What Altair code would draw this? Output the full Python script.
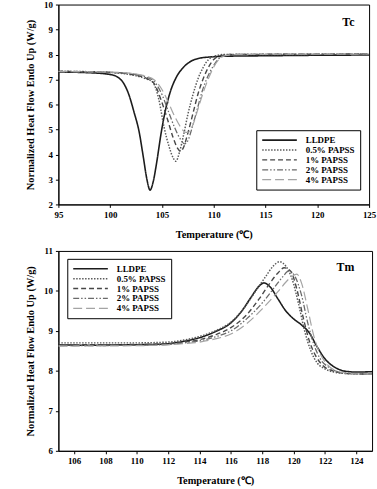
import altair as alt
import pandas as pd

series = ["LLDPE", "0.5% PAPSS", "1% PAPSS", "2% PAPSS", "4% PAPSS"]

# ---- Tc (cooling) curves ----
tc_lldpe_x = [95, 98, 100, 100.7, 101.3, 101.8, 102.3, 102.8, 103.2, 103.55, 103.85, 104.15, 104.5, 104.9, 105.3, 105.8, 106.4, 107.1, 107.8, 108.6, 109.6, 111, 115, 120, 125]
tc_lldpe_y = [7.3, 7.27, 7.2, 7.1, 6.85, 6.4, 5.7, 4.9, 3.9, 3.0, 2.57, 2.9, 3.7, 4.8, 5.7, 6.5, 7.1, 7.5, 7.73, 7.85, 7.9, 7.93, 7.95, 7.97, 7.98]

tc_p05_x = [95, 99, 101, 102.5, 103.5, 104.1, 104.7, 105.2, 105.7, 106.1, 106.35, 106.7, 107.1, 107.5, 108, 108.5, 109, 109.5, 110.2, 111, 115, 125]
tc_p05_y = [7.33, 7.3, 7.25, 7.15, 7.02, 6.9, 6.2, 5.1, 4.3, 3.85, 3.73, 4.1, 4.8, 5.6, 6.4, 7.05, 7.5, 7.8, 7.95, 8.0, 8.0, 8.02]

tc_p1_x = [95, 101, 102.5, 103.5, 104.3, 104.9, 105.5, 106.1, 106.5, 106.8, 107.1, 107.5, 108, 108.5, 109, 109.5, 110, 110.6, 111.5, 125]
tc_p1_y = [7.33, 7.26, 7.17, 7.05, 6.8, 6.2, 5.45, 4.65, 4.25, 4.12, 4.3, 4.85, 5.65, 6.45, 7.05, 7.5, 7.8, 7.95, 8.0, 8.02]

tc_p2_x = [95, 101, 102.5, 103.5, 104.3, 105, 105.6, 106.2, 106.8, 107.2, 107.5, 107.9, 108.4, 108.9, 109.4, 109.9, 110.4, 111, 112, 125]
tc_p2_y = [7.32, 7.27, 7.2, 7.1, 6.9, 6.4, 5.75, 5.1, 4.6, 4.42, 4.55, 5.05, 5.8, 6.55, 7.1, 7.5, 7.8, 7.95, 8.0, 8.02]

tc_p4_x = [95, 101, 102.5, 103.5, 104.3, 105, 105.6, 106.2, 106.8, 107.3, 107.6, 108, 108.5, 109, 109.5, 110, 110.5, 111.1, 112, 125]
tc_p4_y = [7.32, 7.28, 7.22, 7.13, 6.97, 6.6, 6.1, 5.55, 5.1, 4.88, 4.9, 5.2, 5.85, 6.5, 7.05, 7.5, 7.8, 7.95, 8.0, 8.02]

# ---- Tm (heating) curves ----
tm_lldpe_x = [105, 107, 109, 111, 112, 113, 114, 115, 116, 116.7, 117.3, 117.8, 118.1, 118.5, 119, 119.5, 120, 120.5, 121, 121.5, 122, 122.5, 123, 123.5, 124, 125]
tm_lldpe_y = [8.65, 8.64, 8.65, 8.66, 8.68, 8.74, 8.83, 8.98, 9.2, 9.5, 9.85, 10.12, 10.2, 10.1, 9.8, 9.5, 9.3, 9.15, 8.95, 8.6, 8.3, 8.12, 8.02, 7.98, 7.97, 7.98]

tm_p05_x = [105, 108, 110, 112, 113, 114, 115, 116, 116.8, 117.5, 118.2, 118.7, 119.1, 119.5, 119.9, 120.3, 120.7, 121.1, 121.5, 122, 122.7, 123.5, 125]
tm_p05_y = [8.7, 8.7, 8.7, 8.72, 8.77, 8.86, 9.0, 9.22, 9.55, 9.95, 10.35, 10.62, 10.73, 10.62, 10.3, 9.7, 9.0, 8.5, 8.2, 8.05, 7.96, 7.93, 7.92]

tm_p1_x = [105, 110, 112, 113, 114, 115, 116, 117, 117.8, 118.5, 119, 119.4, 119.8, 120.2, 120.6, 121, 121.4, 121.9, 122.5, 123.5, 125]
tm_p1_y = [8.65, 8.66, 8.68, 8.72, 8.78, 8.9, 9.08, 9.4, 9.8, 10.2, 10.45, 10.58, 10.5, 10.05, 9.35, 8.75, 8.38, 8.12, 8.0, 7.93, 7.92]

tm_p2_x = [105, 110, 112, 113, 114, 115, 116, 117, 118, 118.8, 119.3, 119.7, 120.1, 120.5, 120.9, 121.3, 121.7, 122.2, 122.8, 123.8, 125]
tm_p2_y = [8.63, 8.64, 8.66, 8.7, 8.75, 8.85, 9.0, 9.3, 9.7, 10.1, 10.35, 10.5, 10.35, 9.9, 9.2, 8.65, 8.3, 8.1, 7.98, 7.93, 7.92]

tm_p4_x = [105, 110, 112, 113, 114, 115, 116, 117, 118, 119, 119.7, 120.2, 120.5, 120.9, 121.3, 121.7, 122.1, 122.7, 123.7, 125]
tm_p4_y = [8.62, 8.63, 8.65, 8.68, 8.72, 8.8, 8.92, 9.18, 9.55, 9.98, 10.3, 10.42, 10.2, 9.55, 8.85, 8.42, 8.18, 8.0, 7.93, 7.92]

tc_ticks_x = [95, 100, 105, 110, 115, 120, 125]
tc_ticks_y = [2, 3, 4, 5, 6, 7, 8, 9, 10]
tm_ticks_x = [106, 108, 110, 112, 114, 116, 118, 120, 122, 124]
tm_ticks_y = [6, 7, 8, 9, 10, 11]

tc_label = {"text": ["Tc"], "x": [123.0], "y": [9.28]}
tm_label = {"text": ["Tm"], "x": [123.3], "y": [10.59]}

def build(xs_list, ys_list):
    rows = []
    for name, xs, ys in zip(series, xs_list, ys_list):
        for i, (a, b) in enumerate(zip(xs, ys)):
            rows.append({"series": name, "T": a, "H": b, "order": i})
    return pd.DataFrame(rows)

tc_df = build([tc_lldpe_x, tc_p05_x, tc_p1_x, tc_p2_x, tc_p4_x],
              [tc_lldpe_y, tc_p05_y, tc_p1_y, tc_p2_y, tc_p4_y])
tm_df = build([tm_lldpe_x, tm_p05_x, tm_p1_x, tm_p2_x, tm_p4_x],
              [tm_lldpe_y, tm_p05_y, tm_p1_y, tm_p2_y, tm_p4_y])

FONT = "Liberation Serif"
color_scale = alt.Scale(domain=series, range=["#1c1c1c", "#5a5a5a", "#474747", "#6a6a6a", "#a4a4a4"])
dash_scale = alt.Scale(domain=series, range=[[1, 0], [1.5, 1.5], [5, 3], [6, 2, 1.5, 2, 1.5, 2], [9, 4]])
width_scale = alt.Scale(domain=series, range=[1.6, 1.2, 1.3, 1.3, 1.3])


def legend(lx, ly):
    return alt.Legend(title=None, orient="none", legendX=lx, legendY=ly,
                      symbolType="M-1,0H7.75", symbolSize=64,
                      labelFont=FONT, labelFontWeight="bold", labelFontSize=9,
                      labelColor="black", labelOffset=35,
                      strokeColor="black", fillColor="white", padding=5,
                      rowPadding=0, labelLimit=200)


def axis(vals, title):
    return alt.Axis(values=vals, title=title, labelOverlap=False, labelFlush=False,
                    labelBound=False, tickCount=len(vals))


def panel(df, xdom, ydom, xticks, yticks, w, lab, lx, ly):
    lg = legend(lx, ly)
    lines = alt.Chart(df).mark_line(interpolate="monotone", clip=True).encode(
        x=alt.X("T:Q", scale=alt.Scale(domain=xdom, nice=False, zero=False),
                axis=axis(xticks, "Temperature (℃)")),
        y=alt.Y("H:Q", scale=alt.Scale(domain=ydom, nice=False, zero=False),
                axis=axis(yticks, "Normalized Heat Flow Endo Up (W/g)")),
        color=alt.Color("series:N", scale=color_scale, legend=lg),
        strokeDash=alt.StrokeDash("series:N", scale=dash_scale, legend=lg),
        strokeWidth=alt.StrokeWidth("series:N", scale=width_scale, legend=lg),
        detail="series:N",
        order="order:Q",
    )
    text = alt.Chart(pd.DataFrame(lab)).mark_text(
        font=FONT, fontWeight="bold", fontSize=12, color="black", align="center", baseline="middle"
    ).encode(x="x:Q", y="y:Q", text="text:N")
    return alt.layer(lines, text).properties(width=w, height=202)


top = panel(tc_df, [95, 125], [2, 10], tc_ticks_x, tc_ticks_y, 314, tc_label, 200, 127)
bottom = panel(tm_df, [105, 125], [6, 11], tm_ticks_x, tm_ticks_y, 317, tm_label, 9, 8)

chart = alt.vconcat(top, bottom, spacing=47, bounds="flush").resolve_scale(
    color="independent", strokeDash="independent", strokeWidth="independent", x="independent", y="independent"
).resolve_legend(color="independent", strokeDash="independent", strokeWidth="independent").properties(
    padding={"left": 25, "top": -3, "right": 0, "bottom": 0}, background="white"
).configure_view(stroke="black", strokeWidth=1).configure_axis(
    grid=False, domainColor="black", tickColor="black", tickSize=3, labelOverlap=False,
    labelFont=FONT, labelFontWeight="bold", labelFontSize=9, labelColor="black", labelPadding=3,
    titleFont=FONT, titleFontWeight="bold", titleFontSize=10.5, titleColor="black",
).configure_axisY(titlePadding=8).configure_axisX(titlePadding=10)

chart.save("out.html", embed_options={"renderer": "svg", "actions": False})
